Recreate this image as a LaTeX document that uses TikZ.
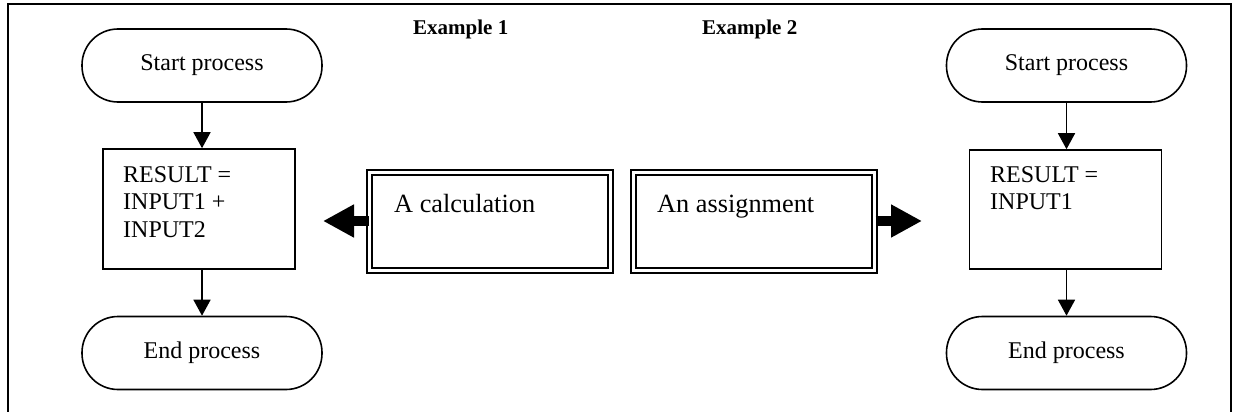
\documentclass[tikz,border=0pt]{standalone}
\usepackage{fontspec}
\setmainfont{Liberation Serif}
\usetikzlibrary{arrows.meta}
\begin{document}
\begin{tikzpicture}[x=1pt,y=-1pt,
  every node/.style={font=\fontsize{24}{27.6}\selectfont},
  term/.style={draw, line width=1.6pt, rounded corners=36pt, minimum width=240pt, minimum height=73pt, inner sep=0pt},
  procbox/.style={draw, line width=1.6pt, minimum width=192pt, minimum height=120pt, inner sep=0pt},
  dblbox/.style={draw, line width=2pt, double, double distance=2.6pt, minimum width=241pt, minimum height=98pt, inner sep=0pt},
  flow/.style={line width=1.6pt, -{Triangle[length=16pt,width=17pt]}},
  block/.style={line width=10.5pt, -{Triangle[length=31pt,width=31pt]}},
  txt/.style={inner sep=0pt, align=left},
  bigtxt/.style={inner sep=0pt, font=\fontsize{26.3}{30}\selectfont},
  heading/.style={inner sep=0pt, font=\fontsize{21}{24}\selectfont\bfseries}
]
\useasboundingbox (0,0) rectangle (1235,412);
\draw[line width=1.6pt] (8,420) -- (8,4) -- (1231,4) -- (1231,420);

\node[heading, anchor=base west] (ex1) at (413,35) {Example 1};
\node[heading, anchor=base west] (ex2) at (702,35) {Example 2};

% left column
\node[term] (start1) at (202,65.5) {Start process};
\node[procbox] (proc1) at (199,209) {};
\node[txt, anchor=north west] (proc1t) at (123,166) {RESULT =\\INPUT1 +\\INPUT2};
\node[term] (end1) at (202,353) {End process};
\draw[flow] (start1.south) -- (start1.south |- proc1.north);
\draw[flow] (start1.south |- proc1.south) -- (end1.north);

% right column
\node[term] (start2) at (1066.5,65.5) {Start process};
\node[procbox, minimum height=119pt] (proc2) at (1065.5,209.5) {};
\node[txt, anchor=north west] (proc2t) at (990,166) {RESULT =\\INPUT1};
\node[term] (end2) at (1066.5,353) {End process};
\draw[flow] (start2.south) -- (start2.south |- proc2.north);
\draw[flow] (start2.south |- proc2.south) -- (end2.north);

% middle boxes
\node[dblbox] (calc) at (490,221.5) {};
\node[bigtxt, anchor=base west] (calct) at (394,212) {A calculation};
\node[dblbox] (assign) at (754,221.5) {};
\node[bigtxt, anchor=base west] (assignt) at (657,212) {An assignment};

\coordinate (tipL) at (323,221);
\coordinate (tipR) at (922,221);
\draw[block] (calc.west |- tipL) -- (tipL);
\draw[block] (assign.east |- tipR) -- (tipR);
\end{tikzpicture}
\end{document}
